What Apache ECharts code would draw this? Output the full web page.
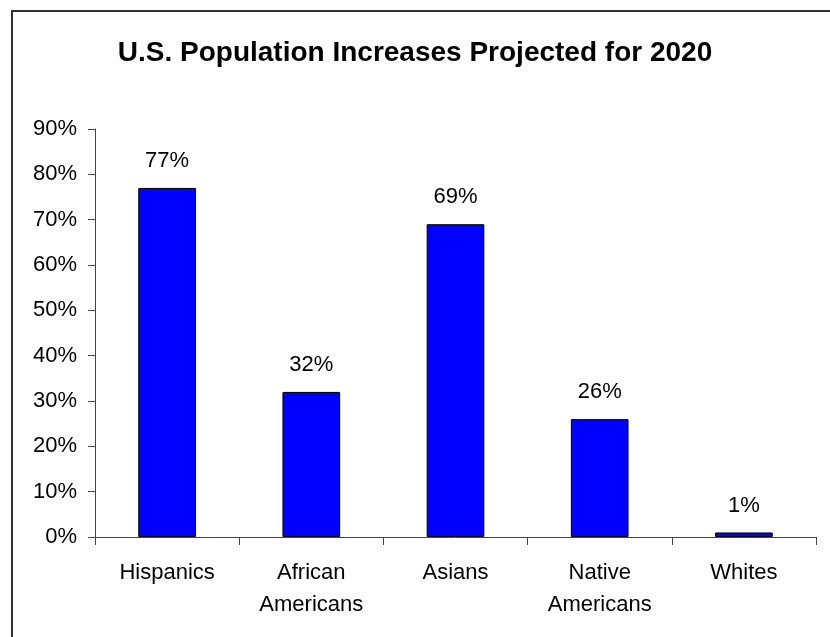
<!DOCTYPE html>
<html>
<head>
<meta charset="utf-8">
<script src="https://cdn.jsdelivr.net/npm/echarts@6/dist/echarts.min.js"></script>
<style>html,body{margin:0;padding:0;background:#fff;}#c{width:830px;height:637px;}</style>
</head>
<body>
<div id="c"></div>
<script>
const titleText = 'U.S. Population Increases Projected for 2020';
const categories = ['Hispanics', 'African\nAmericans', 'Asians', 'Native\nAmericans', 'Whites'];
const values = [77, 32, 69, 26, 1];
const yTicks = { min: 0, max: 90, interval: 10 };

const chart = echarts.init(document.getElementById('c'));
const font = 'Liberation Sans, Arial, sans-serif';
chart.setOption({
  animation: false,
  backgroundColor: '#fff',
  title: {
    text: titleText,
    left: 'center',
    top: 34,
    textStyle: { fontFamily: font, fontWeight: 'bold', fontSize: 28, color: '#000' }
  },
  graphic: [{
    type: 'rect',
    shape: { x: 12, y: 11, width: 900, height: 700 },
    style: { fill: 'none', stroke: '#333', lineWidth: 2 },
    silent: true
  }],
  grid: { left: 95, right: 14, top: 129, bottom: 100 },
  xAxis: {
    type: 'category',
    data: categories,
    axisLine: { lineStyle: { color: '#444', width: 1 } },
    axisTick: { show: true, length: 8, lineStyle: { color: '#444' } },
    axisLabel: { color: '#000', fontFamily: font, fontSize: 22, margin: 20, lineHeight: 32, interval: 0 }
  },
  yAxis: {
    type: 'value',
    min: yTicks.min, max: yTicks.max, interval: yTicks.interval,
    axisLine: { show: true, lineStyle: { color: '#444', width: 1 } },
    axisTick: { show: true, length: 7, lineStyle: { color: '#444' } },
    splitLine: { show: false },
    axisLabel: { formatter: '{value}%', color: '#000', fontFamily: font, fontSize: 22, margin: 18 }
  },
  series: [{
    type: 'bar',
    data: values,
    barWidth: '40%',
    itemStyle: { color: '#0000ff', borderColor: '#000', borderWidth: 1 },
    label: { show: true, position: 'top', distance: 16, formatter: '{c}%', color: '#000', fontFamily: font, fontSize: 22 }
  }]
});
</script>
</body>
</html>
